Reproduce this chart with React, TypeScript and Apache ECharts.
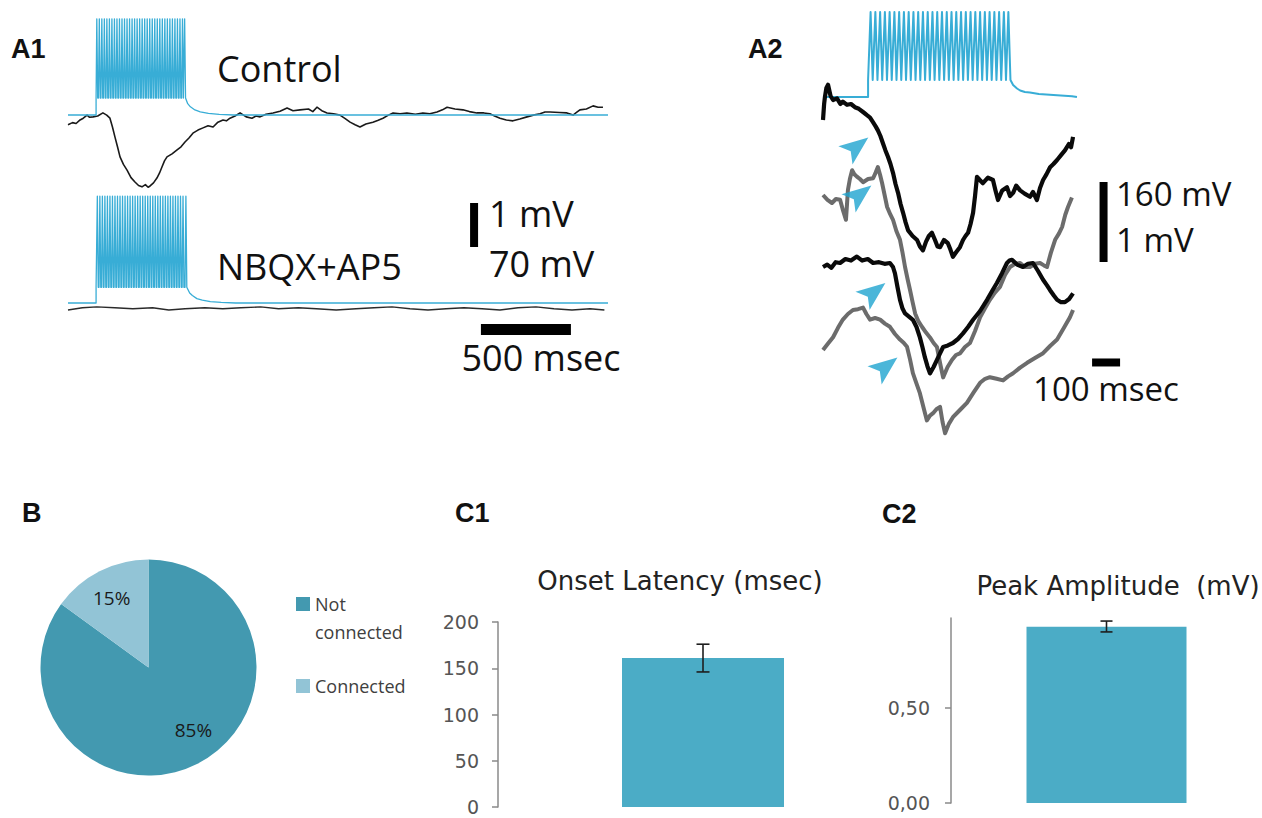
import React, { useEffect, useRef } from 'react';
import * as echarts from 'echarts';

// ====================== DATA ======================
// Panel A1 — time in ms, membrane potential in mV relative to each trace's resting level
const A1_CONTROL_BLACK: [number, number][] = [
  [0, -0.2], [25, -0.15], [45, -0.17], [67, -0.09], [85, -0.05], [106, 0.02], [120, -0.03], [139, -0.02], [165, 0.0], [194, 0.07],
  [215, 0.02], [233, -0.05], [247, -0.25], [261, -0.48], [275, -0.7], [289, -0.93], [308, -1.1], [328, -1.23], [350, -1.4], [372, -1.5],
  [392, -1.58], [411, -1.61], [430, -1.56], [445, -1.62], [456, -1.59], [475, -1.52], [494, -1.41], [508, -1.3], [522, -1.16], [536, -1.02],
  [550, -0.93], [578, -0.86], [606, -0.77], [628, -0.7], [650, -0.59], [672, -0.5], [694, -0.39], [722, -0.32], [750, -0.27], [778, -0.22],
  [806, -0.25], [833, -0.14], [861, -0.09], [880, -0.11], [900, -0.05], [928, 0.0], [956, 0.07], [990, -0.02], [1022, -0.05], [1045, 0.0],
  [1067, -0.02], [1100, 0.04], [1139, 0.07], [1178, 0.11], [1217, 0.18], [1250, 0.12], [1289, 0.14], [1336, 0.16], [1360, 0.1], [1383, 0.2],
  [1410, 0.12], [1439, 0.07], [1475, 0.05], [1511, 0.02], [1540, -0.06], [1567, -0.14], [1595, -0.2], [1622, -0.25], [1655, -0.18], [1694, -0.14],
  [1720, -0.1], [1750, -0.05], [1780, 0.02], [1806, 0.07], [1845, 0.05], [1883, 0.07], [1930, 0.04], [1972, 0.07], [2010, 0.05], [2050, 0.09],
  [2080, 0.14], [2106, 0.2], [2150, 0.16], [2194, 0.14], [2230, 0.1], [2272, 0.07], [2310, 0.07], [2344, 0.05], [2370, 0.0], [2400, -0.05],
  [2435, -0.09], [2472, -0.11], [2510, -0.07], [2550, -0.02], [2585, 0.02], [2622, 0.05], [2650, 0.09], [2678, 0.09], [2730, 0.08], [2772, 0.07],
  [2806, 0.02], [2825, 0.08], [2844, 0.14], [2880, 0.16], [2917, 0.23], [2945, 0.2], [2972, 0.2],
];
const A1_NBQX_BLACK: [number, number][] = [
  [0, 0.0], [80, 0.05], [160, 0.07], [260, 0.05], [360, 0.03], [470, 0.05], [560, 0.0], [650, 0.03], [760, 0.05], [860, 0.03],
  [960, 0.05], [1070, 0.07], [1170, 0.03], [1280, 0.05], [1380, 0.03], [1490, 0.0], [1600, 0.03], [1700, 0.05], [1800, 0.07], [1900, 0.03],
  [2000, 0.0], [2100, 0.03], [2200, 0.05], [2300, 0.03], [2400, 0.0], [2500, 0.05], [2600, 0.07], [2700, 0.03], [2800, 0.0], [2900, 0.03], [2980, 0.0],
];
// Presynaptic (blue) recordings: step onset, plateau, spike peak, spike times, decay after the train
const A1_CONTROL_STEP = [156, 27, 153]; // onset ms, plateau mV, spike peak mV
const A1_CONTROL_SPIKES = [160, 174, 188, 202, 216, 230, 244, 258, 272, 286, 300, 314, 328, 342, 356, 370, 384, 398, 412, 426, 440, 454, 468, 482, 496, 510, 524, 538, 552, 566, 580, 594, 608, 622, 636, 648];
const A1_CONTROL_DECAY: [number, number][] = [[652, 27], [665, 18], [680, 13], [705, 8], [735, 5], [780, 2.5], [840, 1], [920, 0], [3000, 0]];
const A1_NBQX_STEP = [156, 25, 170];
const A1_NBQX_SPIKES = [163, 177, 191, 205, 219, 233, 247, 261, 275, 289, 303, 317, 331, 345, 359, 373, 387, 401, 415, 429, 443, 457, 471, 485, 499, 513, 527, 541, 555, 569, 583, 597, 611, 625, 639, 655];
const A1_NBQX_DECAY: [number, number][] = [[661, 25], [676, 16], [691, 12], [716, 7], [746, 4.5], [791, 2.2], [851, 1], [931, 0], [3000, 0]];

// Panel A2
const A2_BLUE_STEP = [161, 34, 170];
const A2_BLUE_SPIKES = [170, 187, 204, 221, 238, 255, 272, 289, 306, 323, 340, 357, 374, 391, 408, 425, 442, 459, 476, 493, 510, 527, 544, 561, 578, 595, 612, 629, 646, 662];
const A2_BLUE_DECAY: [number, number][] = [[668, 34], [679, 24], [693, 17], [704, 13], [721, 10], [739, 9], [771, 6], [836, 3.5], [889, 1.5], [907, 0]];
const A2_TRACE1: [number, number][] = [
  [0, 0], [4, 0.2], [7, 0.29], [12, 0.4], [18, 0.44], [27, 0.3], [36, 0.25], [50, 0.27], [62, 0.2], [71, 0.23], [86, 0.19], [100, 0.2],
  [114, 0.16], [128, 0.14], [143, 0.1], [157, 0.06], [168, 0.03], [179, -0.03], [188, -0.08], [196, -0.13], [205, -0.2], [214, -0.29],
  [223, -0.38], [232, -0.46], [241, -0.55], [250, -0.66], [259, -0.8], [268, -0.91], [277, -1.05], [286, -1.16], [295, -1.28], [304, -1.38],
  [320, -1.45], [336, -1.5], [346, -1.58], [357, -1.63], [368, -1.52], [378, -1.45], [389, -1.41], [400, -1.5], [409, -1.58], [418, -1.59],
  [432, -1.5], [446, -1.54], [455, -1.62], [464, -1.71], [476, -1.65], [489, -1.59], [500, -1.5], [509, -1.45], [518, -1.41], [527, -1.3],
  [536, -1.16], [543, -0.95], [550, -0.71], [560, -0.75], [571, -0.79], [589, -0.72], [607, -0.75], [616, -0.88], [625, -1.0], [640, -0.88],
  [657, -0.84], [668, -0.95], [679, -0.91], [690, -0.82], [704, -0.88], [720, -0.92], [739, -0.96], [750, -0.9], [764, -1.0], [775, -0.85],
  [786, -0.75], [798, -0.68], [811, -0.59], [823, -0.55], [836, -0.5], [850, -0.44], [864, -0.38], [878, -0.3], [886, -0.34], [893, -0.21],
];
const A2_TRACE2: [number, number][] = [
  [0, 0], [16, -0.06], [32, -0.1], [46, -0.05], [61, -0.06], [72, -0.2], [82, -0.31], [86, -0.1], [89, 0.06], [96, 0.2], [104, 0.31],
  [112, 0.26], [121, 0.23], [132, 0.2], [143, 0.16], [161, 0.2], [179, 0.21], [188, 0.28], [196, 0.35], [204, 0.25], [211, 0.15], [220, 0.0],
  [229, -0.15], [240, -0.24], [250, -0.31], [262, -0.45], [275, -0.56], [284, -0.72], [293, -0.9], [302, -1.05], [311, -1.19], [320, -1.34],
  [329, -1.48], [341, -1.58], [354, -1.65], [368, -1.72], [382, -1.78], [395, -1.85], [407, -1.9], [418, -2.1], [429, -2.28], [445, -2.15],
  [461, -2.06], [475, -2.0], [489, -1.98], [507, -1.9], [525, -1.85], [543, -1.7], [561, -1.53], [578, -1.42], [596, -1.31], [614, -1.22],
  [632, -1.15], [650, -1.0], [668, -0.9], [686, -0.86], [704, -0.85], [721, -0.9], [739, -0.9], [757, -0.86], [775, -0.85], [789, -0.88],
  [800, -0.9], [814, -0.72], [829, -0.56], [843, -0.48], [854, -0.4], [865, -0.25], [875, -0.15], [889, -0.03],
];
const A2_TRACE3: [number, number][] = [
  [0, 0], [15, 0.03], [30, -0.01], [45, 0.06], [61, 0.05], [80, 0.1], [100, 0.08], [121, 0.13], [140, 0.08], [160, 0.1], [179, 0.05],
  [200, 0.06], [220, 0.04], [239, 0.05], [250, 0.0], [257, -0.08], [266, -0.25], [275, -0.41], [284, -0.52], [293, -0.58], [307, -0.62],
  [321, -0.66], [334, -0.75], [346, -0.88], [355, -1.0], [364, -1.13], [373, -1.24], [382, -1.33], [395, -1.25], [407, -1.16], [418, -1.08],
  [429, -1.0], [446, -0.98], [464, -0.95], [482, -0.9], [500, -0.83], [518, -0.75], [536, -0.66], [561, -0.55], [586, -0.41], [604, -0.3],
  [621, -0.2], [639, -0.08], [657, 0.05], [666, 0.08], [675, 0.09], [693, 0.03], [714, 0.0], [732, 0.04], [750, 0.05], [768, -0.05],
  [786, -0.16], [800, -0.23], [811, -0.29], [825, -0.36], [836, -0.41], [850, -0.44], [864, -0.44], [879, -0.4], [893, -0.33],
];
const A2_TRACE4: [number, number][] = [
  [0, 0], [18, 0.08], [36, 0.16], [54, 0.28], [71, 0.38], [89, 0.45], [107, 0.5], [125, 0.51], [143, 0.53], [155, 0.45], [168, 0.38],
  [186, 0.4], [204, 0.38], [221, 0.33], [239, 0.29], [257, 0.2], [275, 0.13], [288, 0.09], [300, 0.04], [311, -0.12], [321, -0.29],
  [334, -0.42], [346, -0.54], [359, -0.72], [371, -0.88], [382, -0.82], [393, -0.79], [405, -0.74], [418, -0.71], [427, -0.9], [436, -1.04],
  [450, -0.92], [464, -0.84], [489, -0.75], [514, -0.66], [538, -0.53], [561, -0.41], [579, -0.36], [596, -0.34], [620, -0.36], [643, -0.38],
  [661, -0.33], [679, -0.29], [704, -0.22], [729, -0.16], [757, -0.1], [786, -0.04], [811, 0.05], [836, 0.13], [861, 0.28], [882, 0.41], [893, 0.5],
];
// Onset markers (arrowheads), in trace-1 coordinates (ms, mV)
const A2_ARROWS: [number, number][] = [[121, -0.33], [132, -0.93], [182, -2.15], [225, -3.08]];

// Scale bars
const A1_TIME_BAR_MS = 500;
const A1_VOLT_BAR_MV = 1;
const A2_TIME_BAR_MS = 100;
const A2_VOLT_BAR_MV = 1;

// Panel B
const PIE_NAMES = ['Not connected', 'Connected'];
const PIE_VALUES = [85, 15];

// Panels C1, C2
const C1_CATEGORIES = ['Connected pairs'];
const C1_MEAN = [161];
const C1_SEM = [15];
const C1_TICKS = [0, 50, 100, 150, 200];
const C2_CATEGORIES = ['Connected pairs'];
const C2_MEAN = [0.924];
const C2_ERR_LOW = [0.897];
const C2_ERR_HIGH = [0.954];
const C2_TICKS = [0, 0.5];

// ====================== LAYOUT / STYLE ======================
const BLUE = '#38add6';
const ARROW_BLUE = '#1ea4cf';
const BAR_BLUE = '#4bacc6';
const GRAY = '#6c6c6c';

type Box = { left: number; top: number; width: number; height: number };
const A1_BOX: Box = { left: 68, top: 0, width: 540, height: 420 };
const A2_BOX: Box = { left: 823, top: 0, width: 300, height: 460 };
const A1_MS_PER_PX = 500 / 90;
const A2_MS_PER_PX = 100 / 28;

// each trace: box, ms/px, resting-level pixel row, px per mV
const TRACE_LAYOUT = [
  { box: A1_BOX, msPerPx: A1_MS_PER_PX, rest: 115, pxPerUnit: 44 / 70 }, // 0 control blue
  { box: A1_BOX, msPerPx: A1_MS_PER_PX, rest: 116, pxPerUnit: 44 },      // 1 control black
  { box: A1_BOX, msPerPx: A1_MS_PER_PX, rest: 303, pxPerUnit: 44 / 70 }, // 2 nbqx blue
  { box: A1_BOX, msPerPx: A1_MS_PER_PX, rest: 310, pxPerUnit: 44 },      // 3 nbqx black
  { box: A2_BOX, msPerPx: A2_MS_PER_PX, rest: 97, pxPerUnit: 80 / 160 }, // 4 A2 blue
  { box: A2_BOX, msPerPx: A2_MS_PER_PX, rest: 120, pxPerUnit: 80 },      // 5 trace 1
  { box: A2_BOX, msPerPx: A2_MS_PER_PX, rest: 195, pxPerUnit: 80 },      // 6 trace 2
  { box: A2_BOX, msPerPx: A2_MS_PER_PX, rest: 267, pxPerUnit: 80 },      // 7 trace 3
  { box: A2_BOX, msPerPx: A2_MS_PER_PX, rest: 350, pxPerUnit: 80 },      // 8 trace 4
];

// scale-bar anchors (ms, mV) in the grid they are drawn in
const A1_TBAR_ANCHOR = [2294, -4.852];
const A1_VBAR_ANCHOR = [2256, -2.977];
const A2_VBAR_ANCHOR = [1002, -1.775];
const A2_TBAR_ANCHOR = [961, -3.031];

function spikeTrain(step: number[], spikes: number[], halfWidth: number, decay: [number, number][]) {
  const [onset, plateau, peak] = step;
  const pts: [number, number][] = [[0, 0], [onset, 0], [onset, plateau]];
  spikes.forEach((ts) => {
    pts.push([ts - halfWidth, plateau], [ts, peak], [ts + halfWidth, plateau]);
  });
  decay.forEach((p) => pts.push(p));
  return pts;
}

function lineSeries(idx: number, data: [number, number][], color: string, width: number, z = 2) {
  return {
    type: 'line', xAxisIndex: idx, yAxisIndex: idx, data, showSymbol: false, symbol: 'none',
    clip: false, silent: true, z,
    lineStyle: { color, width, cap: 'butt', join: 'round' },
  };
}

const FONT_LABEL = 'bold 27px "Liberation Sans", Arial, sans-serif';
function txt(x: number, y: number, text: string, font: string, align = 'left', fill = '#111') {
  return {
    type: 'text', x, y, silent: true,
    style: { text, font, fill, textAlign: align, textVerticalAlign: 'middle', align, verticalAlign: 'middle' },
  };
}

function buildOption() {
  const grids: any[] = [];
  const xAxes: any[] = [];
  const yAxes: any[] = [];
  TRACE_LAYOUT.forEach((t, i) => {
    const { box } = t;
    grids.push({ left: box.left, top: box.top, width: box.width, height: box.height });
    xAxes.push({ type: 'value', gridIndex: i, min: 0, max: box.width * t.msPerPx, show: false });
    yAxes.push({
      type: 'value', gridIndex: i, show: false,
      min: (t.rest - (box.top + box.height)) / t.pxPerUnit,
      max: (t.rest - box.top) / t.pxPerUnit,
    });
  });

  // C1 grid (index 9) and C2 grid (index 10)
  grids.push({ left: 498, top: 622, width: 410, height: 185 });
  xAxes.push({ type: 'category', gridIndex: 9, data: C1_CATEGORIES, show: false });
  yAxes.push({
    type: 'value', gridIndex: 9, min: 0, max: 200, interval: 50,
    axisLine: { show: true, lineStyle: { color: '#8a8a8a', width: 1.5 } },
    axisTick: { show: true, length: 6, lineStyle: { color: '#8a8a8a', width: 1.5 }, customValues: C1_TICKS },
    axisLabel: { customValues: C1_TICKS, margin: 19, color: '#555', fontSize: 19, fontFamily: '"DejaVu Sans", sans-serif' },
    splitLine: { show: false },
  });
  grids.push({ left: 951, top: 618, width: 400, height: 185 });
  xAxes.push({ type: 'category', gridIndex: 10, data: C2_CATEGORIES, show: false });
  yAxes.push({
    type: 'value', gridIndex: 10, min: 0, max: 0.97, interval: 0.5,
    axisLine: { show: true, lineStyle: { color: '#8a8a8a', width: 1.5 } },
    axisTick: { show: true, length: 6, lineStyle: { color: '#8a8a8a', width: 1.5 }, customValues: C2_TICKS },
    axisLabel: {
      customValues: C2_TICKS, margin: 21, color: '#555', fontSize: 19, fontFamily: '"DejaVu Sans", sans-serif',
      formatter: (v: number) => v.toFixed(2).replace('.', ','),
    },
    splitLine: { show: false },
  });

  const errorBar = (gridIdx: number, data: any[], halfCap: number) => ({
    type: 'custom', xAxisIndex: gridIdx, yAxisIndex: gridIdx, data, silent: true, z: 5,
    renderItem: (params: any, api: any) => {
      const lo = api.coord([api.value(0), api.value(1)]);
      const hi = api.coord([api.value(0), api.value(2)]);
      const x = lo[0];
      const style = { stroke: '#1e1e1e', lineWidth: 1.6 };
      return {
        type: 'group',
        children: [
          { type: 'line', shape: { x1: x, y1: lo[1], x2: x, y2: hi[1] }, style },
          { type: 'line', shape: { x1: x - halfCap, y1: lo[1], x2: x + halfCap, y2: lo[1] }, style },
          { type: 'line', shape: { x1: x - halfCap, y1: hi[1], x2: x + halfCap, y2: hi[1] }, style },
        ],
      };
    },
  });

  const series: any[] = [
    // A1
    lineSeries(1, A1_CONTROL_BLACK, '#1a1a1a', 1.6),
    lineSeries(0, spikeTrain(A1_CONTROL_STEP, A1_CONTROL_SPIKES, 5, A1_CONTROL_DECAY), BLUE, 1.3, 3),
    lineSeries(3, A1_NBQX_BLACK, '#2a2a2a', 1.4),
    lineSeries(2, spikeTrain(A1_NBQX_STEP, A1_NBQX_SPIKES, 5, A1_NBQX_DECAY), BLUE, 1.3, 3),
    lineSeries(1, [[A1_TBAR_ANCHOR[0], A1_TBAR_ANCHOR[1]], [A1_TBAR_ANCHOR[0] + A1_TIME_BAR_MS, A1_TBAR_ANCHOR[1]]], '#000', 11),
    lineSeries(1, [[A1_VBAR_ANCHOR[0], A1_VBAR_ANCHOR[1]], [A1_VBAR_ANCHOR[0], A1_VBAR_ANCHOR[1] + A1_VOLT_BAR_MV]], '#000', 8),
    // A2
    lineSeries(4, spikeTrain(A2_BLUE_STEP, A2_BLUE_SPIKES, 7.5, A2_BLUE_DECAY), BLUE, 2),
    lineSeries(5, A2_TRACE1, '#0a0a0a', 4.2, 4),
    lineSeries(6, A2_TRACE2, GRAY, 4, 3),
    lineSeries(7, A2_TRACE3, '#0a0a0a', 4.2, 4),
    lineSeries(8, A2_TRACE4, GRAY, 4, 3),
    {
      type: 'scatter', xAxisIndex: 5, yAxisIndex: 5, data: A2_ARROWS, silent: true, z: 6,
      symbol: 'path://M10,0L20,26L10,20L0,26Z', symbolSize: [23, 29], symbolRotate: -52,
      itemStyle: { color: ARROW_BLUE },
    },
    lineSeries(5, [[A2_VBAR_ANCHOR[0], A2_VBAR_ANCHOR[1]], [A2_VBAR_ANCHOR[0], A2_VBAR_ANCHOR[1] + A2_VOLT_BAR_MV]], '#000', 8),
    lineSeries(5, [[A2_TBAR_ANCHOR[0], A2_TBAR_ANCHOR[1]], [A2_TBAR_ANCHOR[0] + A2_TIME_BAR_MS, A2_TBAR_ANCHOR[1]]], '#000', 8),
    // B
    {
      type: 'pie', center: [148.5, 667.5], radius: 108, startAngle: 90, clockwise: true, silent: true,
      data: PIE_NAMES.map((name, i) => ({
        name, value: PIE_VALUES[i],
        label: { offset: i === 0 ? [19, 12] : [-11, -19] },
      })),
      color: ['#4399b0', '#92c4d6'],
      label: {
        show: true, position: 'inside', formatter: (p: any) => `${p.value}%`,
        color: '#1a1a1a', fontSize: 19, fontFamily: '"Open Sans", sans-serif',
      },
      labelLine: { show: false },
      itemStyle: { borderWidth: 0 },
    },
    // C1
    {
      type: 'bar', xAxisIndex: 9, yAxisIndex: 9, data: C1_MEAN, barWidth: 162, silent: true,
      itemStyle: { color: BAR_BLUE },
    },
    errorBar(9, C1_CATEGORIES.map((c, i) => [c, C1_MEAN[i] - C1_SEM[i], C1_MEAN[i] + C1_SEM[i]]), 6.5),
    // C2
    {
      type: 'bar', xAxisIndex: 10, yAxisIndex: 10, data: C2_MEAN, barWidth: 160, silent: true,
      itemStyle: { color: BAR_BLUE },
    },
    errorBar(10, C2_CATEGORIES.map((c, i) => [c, C2_ERR_LOW[i], C2_ERR_HIGH[i]]), 6),
  ];

  const A1_TEXT = '36px "Open Sans", sans-serif';
  const A2_TEXT = '33px "Open Sans", sans-serif';
  const TITLE_FONT = '26px "DejaVu Sans", sans-serif';
  const graphic = [
    txt(11, 49, 'A1', FONT_LABEL),
    txt(748, 49, 'A2', FONT_LABEL),
    txt(22, 513, 'B', FONT_LABEL),
    txt(455, 513, 'C1', FONT_LABEL),
    txt(882, 514, 'C2', FONT_LABEL),
    txt(217, 68, 'Control', A1_TEXT),
    txt(217, 266, 'NBQX+AP5', A1_TEXT),
    txt(489, 213, '1 mV', A1_TEXT),
    txt(489, 263, '70 mV', A1_TEXT),
    txt(541, 357, '500 msec', A1_TEXT, 'center'),
    txt(1116, 193, '160 mV', A2_TEXT),
    txt(1116, 239, '1 mV', A2_TEXT),
    txt(1106, 388, '100 msec', A2_TEXT, 'center'),
    txt(680, 581, 'Onset Latency (msec)', TITLE_FONT, 'center', '#222'),
    txt(1118, 586, 'Peak Amplitude  (mV)', TITLE_FONT, 'center', '#222'),
  ];

  return {
    animation: false,
    backgroundColor: '#ffffff',
    grid: grids,
    xAxis: xAxes,
    yAxis: yAxes,
    legend: {
      orient: 'vertical', left: 291, top: 557, itemWidth: 14, itemHeight: 14, itemGap: 26,
      icon: 'rect', selectedMode: false, data: PIE_NAMES,
      formatter: (n: string) => (n === 'Not connected' ? ' \nNot\nconnected' : n),
      textStyle: { color: '#404040', fontSize: 18, lineHeight: 28, fontFamily: '"Open Sans", sans-serif' },
    },
    graphic,
    series,
  };
}

export default function App() {
  const ref = useRef<HTMLDivElement>(null);
  useEffect(() => {
    document.body.style.margin = '0';
    if (!ref.current) return;
    const chart = echarts.init(ref.current, undefined, { renderer: 'svg', width: 1262, height: 818 });
    chart.setOption(buildOption() as any);
    return () => chart.dispose();
  }, []);
  return <div ref={ref} style={{ position: 'absolute', left: 0, top: 0, width: 1262, height: 818 }} />;
}
